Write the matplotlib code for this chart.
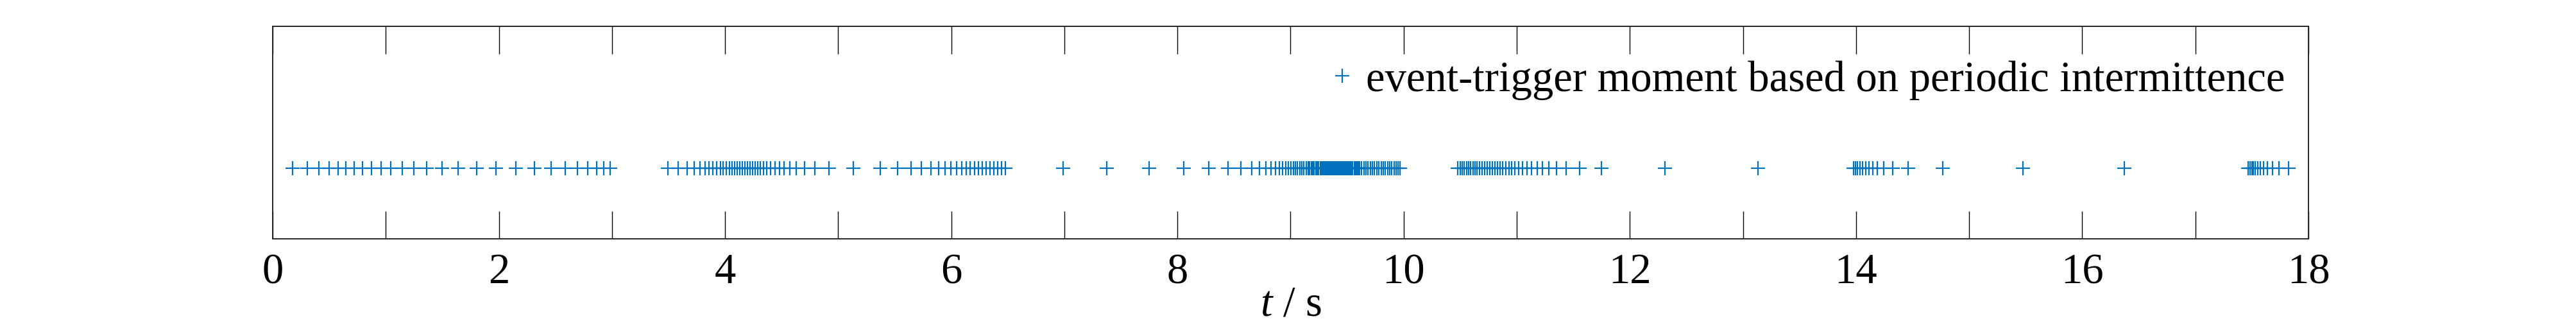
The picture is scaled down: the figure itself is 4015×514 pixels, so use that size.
import matplotlib
matplotlib.use('Agg')
import matplotlib.pyplot as plt
from matplotlib.ticker import MultipleLocator
import numpy as np

# event-trigger moments (s), grouped by burst
burst_1 = [0.176, 0.308, 0.410, 0.497, 0.577, 0.648, 0.720, 0.796, 0.875, 0.959,
           1.046, 1.144, 1.250, 1.363, 1.496, 1.639, 1.802, 1.976, 2.150, 2.313,
           2.460, 2.585, 2.694, 2.785, 2.864, 2.928, 2.985]
burst_2 = [3.492, 3.587, 3.663, 3.727, 3.779, 3.821, 3.859, 3.893, 3.927, 3.958,
           3.984, 4.010, 4.037, 4.060, 4.082, 4.105, 4.128, 4.150, 4.173, 4.196,
           4.218, 4.241, 4.264, 4.286, 4.312, 4.339, 4.369, 4.403, 4.441, 4.483,
           4.521, 4.570, 4.630, 4.702, 4.793, 4.918, 5.133, 5.371]
burst_3 = [5.527, 5.644, 5.738, 5.818, 5.886, 5.946, 5.999, 6.048, 6.090, 6.132,
           6.169, 6.207, 6.241, 6.275, 6.309, 6.343, 6.377, 6.411, 6.445, 6.476,
           6.990, 7.376, 7.750]
burst_4 = [8.053, 8.279, 8.446, 8.563, 8.654, 8.726, 8.782, 8.827, 8.865, 8.899,
           8.930, 8.956, 8.979, 9.002, 9.025, 9.043, 9.062, 9.081, 9.100, 9.119,
           9.138, 9.155, 9.170, 9.183, 9.196, 9.209, 9.222, 9.235, 9.248, 9.261,
           9.272, 9.283, 9.294, 9.305, 9.316, 9.327, 9.338, 9.349, 9.360, 9.371,
           9.382, 9.393, 9.404, 9.415, 9.426, 9.437, 9.448, 9.459, 9.470, 9.481,
           9.492, 9.503, 9.514, 9.526, 9.538, 9.550, 9.562, 9.574, 9.586, 9.598,
           9.610, 9.629, 9.648, 9.667,
           9.686, 9.705, 9.724, 9.743, 9.762, 9.781, 9.800, 9.819, 9.838, 9.857,
           9.876, 9.895, 9.914, 9.933, 9.952, 9.970]
burst_5 = [10.480, 10.499, 10.518, 10.537, 10.556, 10.575, 10.594, 10.612, 10.631,
           10.650, 10.669, 10.692, 10.715, 10.737, 10.760, 10.783, 10.805, 10.828,
           10.851, 10.877, 10.904, 10.930, 10.957, 10.983, 11.014, 11.048, 11.089,
           11.131, 11.180, 11.229, 11.282, 11.350, 11.437, 11.554, 11.751, 12.310,
           13.135]
burst_6 = [13.978, 13.993, 14.012, 14.035, 14.057, 14.084, 14.114, 14.148, 14.190,
           14.247, 14.326, 14.458, 14.765, 15.476, 16.372]
burst_7 = [17.468, 17.483, 17.498, 17.514, 17.529, 17.551, 17.574, 17.604, 17.639,
           17.684, 17.741, 17.824]

t_events = np.array(burst_1 + burst_2 + burst_3 + burst_4 + burst_5 + burst_6 + burst_7)

plt.rcParams['font.family'] = ['Liberation Serif', 'DejaVu Serif']
plt.rcParams['mathtext.fontset'] = 'custom'
plt.rcParams['mathtext.rm'] = 'Liberation Serif'
plt.rcParams['mathtext.it'] = 'Liberation Serif:italic'

fig = plt.figure(figsize=(40.16, 5.14), dpi=100)
ax = fig.add_axes([425 / 4016, 1 - 372 / 514, 3173 / 4016, 331 / 514])

ax.plot(t_events, np.zeros_like(t_events), '+', color='#0072BD',
        markersize=16, markeredgewidth=1.6,
        label='event-trigger moment based on periodic intermittence')

ax.set_xlim(0, 18)
ax.set_ylim(-1, 2)
ax.set_yticks([])
ax.xaxis.set_major_locator(MultipleLocator(2))
ax.xaxis.set_minor_locator(MultipleLocator(1))
ax.tick_params(axis='x', which='both', direction='in', top=True, bottom=True,
               length=31, width=1.0, labelsize=48, pad=16)
for s in ax.spines.values():
    s.set_linewidth(1.4)
    s.set_color('#262626')

ax.set_xlabel(r'$t$ / s', fontsize=48, labelpad=-8)

ax.legend(loc='upper right', bbox_to_anchor=(0.999, 0.94), frameon=False,
          fontsize=48, handlelength=0.35, handletextpad=0.38, borderaxespad=0.1,
          markerscale=1.0)

fig.savefig('out.png', dpi=100)
